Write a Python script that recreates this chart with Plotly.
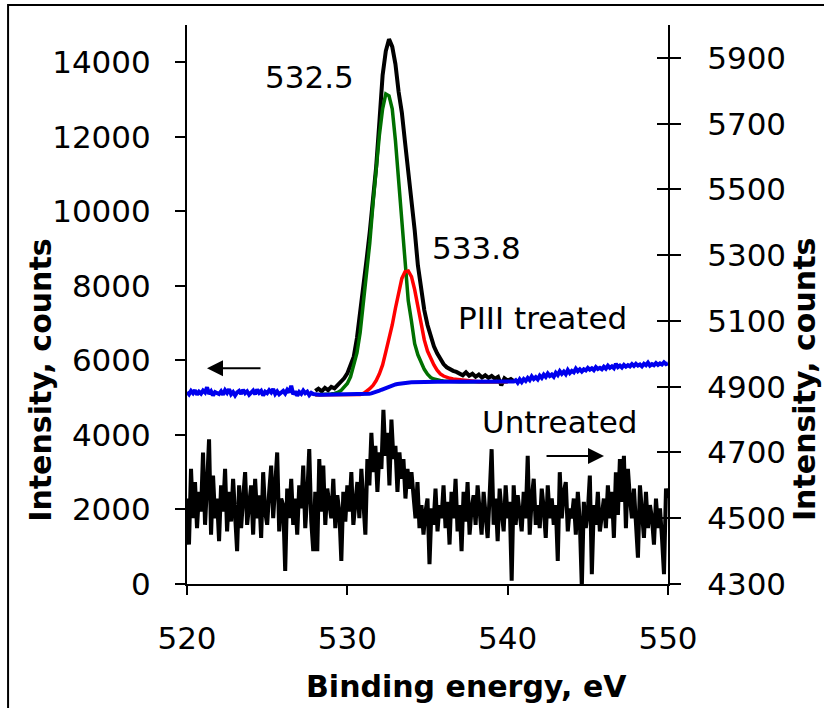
import numpy as np
import plotly.graph_objects as go

# ---------------- data ----------------
# raw-spectrum energy grid (eV), 0.125 eV step
E_raw = np.round(520 + 0.125 * np.arange(241), 3)
# fitted-component grid (eV), 0.2 eV step
E_fit = np.round(528 + 0.2 * np.arange(61), 2)
# envelope grid (eV)
E_env = np.round(528 + 0.2 * np.arange(63), 2)

# Untreated spectrum (right axis, counts)
untreated = [
    4560, 4420, 4650, 4500, 4610, 4470, 4580, 4520,
    4700, 4480, 4600, 4740, 4450, 4630, 4500, 4560,
    4430, 4600, 4520, 4650, 4460, 4580, 4490, 4620,
    4510, 4400, 4600, 4470, 4560, 4640, 4480, 4530,
    4600, 4450, 4620, 4500, 4570, 4440, 4640, 4520,
    4480, 4580, 4660, 4500, 4610, 4700, 4460, 4560,
    4540, 4340, 4590, 4500, 4620, 4480, 4560, 4450,
    4600, 4530, 4660, 4470, 4570, 4710, 4490, 4400,
    4580, 4400, 4680, 4520, 4660, 4480, 4590, 4540,
    4500, 4620, 4470, 4570, 4520, 4370, 4580, 4490,
    4600, 4520, 4640, 4480, 4560, 4610, 4500, 4650,
    4550, 4450, 4680, 4600, 4760, 4640, 4720, 4580,
    4700, 4650, 4830, 4690, 4760, 4600, 4800, 4680,
    4720, 4580, 4700, 4620, 4680, 4560, 4650, 4590,
    4640, 4560, 4500, 4610, 4470, 4540, 4450, 4520,
    4560, 4360, 4530, 4480, 4590, 4460, 4540, 4500,
    4600, 4470, 4550, 4420, 4580, 4500, 4620, 4460,
    4540, 4400, 4580, 4490, 4610, 4450, 4530, 4570,
    4480, 4600, 4520, 4450, 4580, 4500, 4440, 4570,
    4710, 4480, 4560, 4430, 4590, 4520, 4460, 4600,
    4500, 4550, 4310, 4600, 4480, 4570, 4520, 4460,
    4580, 4500, 4690, 4450, 4560, 4620, 4480, 4540,
    4470, 4590, 4530, 4440, 4600, 4500, 4560, 4480,
    4540, 4370, 4640, 4500, 4580, 4610, 4460, 4530,
    4500, 4560, 4450, 4580, 4490, 4290, 4550, 4470,
    4520, 4630, 4330, 4540, 4480, 4580, 4460, 4520,
    4560, 4470, 4600, 4500, 4580, 4440, 4640, 4510,
    4680, 4550, 4690, 4470, 4650, 4560, 4500, 4590,
    4480, 4380, 4600, 4520, 4440, 4580, 4470, 4540,
    4500, 4420, 4560, 4470, 4530, 4440, 4330, 4590,
    4560,
]

# PIII treated: background / raw ends (left axis, counts)
background = [
    5150, 5090, 5180, 5120, 5200, 5080, 5160, 5110,
    5190, 5140, 5280, 5100, 5170, 5060, 5150, 5120,
    5100, 5170, 5080, 5200, 5130, 5230, 5090, 5150,
    5060, 5140, 5180, 5100, 5210, 5120, 5170, 5080,
    5150, 5190, 5090, 5220, 5130, 5180, 5060, 5160,
    5120, 5200, 5140, 5230, 5100, 5170, 5090, 5150,
    5180, 5110, 5210, 5140, 5320, 5090, 5170, 5050,
    5150, 5100, 5190, 5120, 5160, 5070, 5130, 5100,
    5085, 5080, 5080, 5080, 5080, 5080, 5080, 5080,
    5080, 5080, 5080, 5080, 5080, 5080, 5080, 5080,
    5080, 5080, 5080, 5082, 5083, 5084, 5085, 5086,
    5088, 5092, 5098, 5105, 5115, 5128, 5145, 5165,
    5190, 5212, 5235, 5258, 5280, 5300, 5320, 5338,
    5354, 5366, 5377, 5386, 5393, 5399, 5404, 5408,
    5412, 5415, 5417, 5419, 5420, 5421, 5422, 5422,
    5423, 5423, 5423, 5424, 5424, 5424, 5425, 5425,
    5425, 5425, 5426, 5426, 5426, 5426, 5427, 5427,
    5427, 5427, 5428, 5428, 5428, 5428, 5428, 5429,
    5429, 5429, 5429, 5429, 5430, 5430, 5430, 5430,
    5430, 5430, 5430, 5430, 5430, 5430, 5430, 5430,
    5430, 5431, 5432, 5433, 5470, 5400, 5490, 5420,
    5500, 5450, 5530, 5470, 5570, 5500, 5550, 5490,
    5590, 5530, 5620, 5560, 5650, 5580, 5620, 5560,
    5670, 5610, 5710, 5640, 5700, 5630, 5740, 5660,
    5720, 5680, 5780, 5710, 5760, 5700, 5760, 5730,
    5800, 5750, 5790, 5740, 5820, 5770, 5800, 5760,
    5830, 5780, 5860, 5800, 5840, 5790, 5910, 5820,
    5860, 5810, 5880, 5830, 5870, 5840, 5900, 5850,
    5910, 5860, 5890, 5840, 5910, 5870, 5940, 5860,
    5900, 5870, 5930, 5880, 5920, 5890, 5950, 5900,
    5920,
]

# PIII treated measured envelope (left axis)
envelope = [
    5180, 5240, 5170, 5260, 5200, 5290, 5250, 5340, 5420, 5520,
    5650, 5850, 6100, 6600, 7250, 7970, 8700, 9450, 10250, 11200,
    12400, 13650, 14300, 14620, 14420, 13950, 13200, 12650, 11850, 11100,
    10400, 9500, 8550, 7850, 7350, 6950, 6620, 6380, 6190, 6030,
    5900, 5815, 5760, 5720, 5690, 5650, 5600, 5680, 5590, 5640,
    5560, 5620, 5540, 5600, 5530, 5580, 5510, 5560, 5330, 5520,
    5460, 5500, 5440,
]

# component at 532.5 eV (incl. background)
comp_5325 = [
    5080, 5080, 5082, 5085, 5090, 5100, 5115, 5140, 5190, 5270,
    5380, 5560, 5850, 6200, 6750, 7500, 8250, 9150, 10200, 11150,
    12050, 12750, 13150, 13100, 12750, 11900, 10750, 9690, 8500, 7600,
    7050, 6450, 6150, 5950, 5760, 5630, 5540, 5500, 5475, 5460,
    5450, 5442, 5436, 5432, 5430, 5428, 5427, 5426, 5426, 5426,
    5427, 5427, 5427, 5427, 5427, 5427, 5427, 5427, 5427, 5427,
    5428,
]

# component at 533.8 eV (incl. background)
comp_5338 = [
    5080, 5080, 5080, 5080, 5080, 5080, 5080, 5080, 5080, 5080,
    5080, 5080, 5080, 5082, 5088, 5110, 5170, 5240, 5330, 5460,
    5640, 5880, 6230, 6580, 6950, 7400, 7850, 8200, 8380, 8400,
    8250, 7900, 7450, 6950, 6550, 6250, 6050, 5880, 5740, 5640,
    5580, 5545, 5520, 5500, 5490, 5475, 5460, 5450, 5440, 5435,
    5432, 5430, 5430, 5428, 5428, 5428, 5428, 5428, 5428, 5428,
    5428,
]

x_ticks = [520, 530, 540, 550]
left_ticks = [0, 2000, 4000, 6000, 8000, 10000, 12000, 14000]
right_ticks = [4300, 4500, 4700, 4900, 5100, 5300, 5500, 5700, 5900]

FONT = "DejaVu Sans"
FS = 31

fig = go.Figure()

fig.add_trace(go.Scatter(x=E_raw, y=untreated, mode="lines", yaxis="y2",
                         line=dict(color="black", width=4), name="Untreated"))
fig.add_trace(go.Scatter(x=E_env, y=envelope, mode="lines",
                         line=dict(color="black", width=4), name="PIII treated"))
fig.add_trace(go.Scatter(x=E_fit, y=comp_5325, mode="lines",
                         line=dict(color="#007000", width=3.5), name="532.5"))
fig.add_trace(go.Scatter(x=E_fit, y=comp_5338, mode="lines",
                         line=dict(color="#FF0000", width=3.5), name="533.8"))
fig.add_trace(go.Scatter(x=E_raw, y=background, mode="lines",
                         line=dict(color="#0000EE", width=4), name="background"))
# helper for inward half of right-axis cross ticks
fig.add_trace(go.Scatter(x=[None], y=[None], yaxis="y3", showlegend=False))

axis_common = dict(showline=True, linecolor="black", linewidth=2, showgrid=False,
                   zeroline=False, ticks="outside", tickcolor="black", tickwidth=2,
                   tickformat="d",
                   tickfont=dict(family=FONT, size=FS, color="black"))

fig.update_layout(
    width=824, height=708,
    margin=dict(l=187, r=156, t=25, b=124),
    paper_bgcolor="white", plot_bgcolor="white",
    showlegend=False,
    xaxis=dict(range=[520, 550], tickvals=x_ticks, ticklen=9,
               ticklabelstandoff=17, **axis_common),
    yaxis=dict(range=[0, 15000], tickvals=left_ticks, ticklen=10,
               ticklabelstandoff=18, **axis_common),
    yaxis2=dict(range=[4300, 6000], tickvals=right_ticks, ticklen=11,
                overlaying="y", side="right", anchor="x",
                ticklabelstandoff=20, **axis_common),
    yaxis3=dict(range=[4300, 6000], tickvals=right_ticks, ticklen=11,
                overlaying="y", side="right", anchor="x", ticks="inside",
                tickcolor="black", tickwidth=2, showticklabels=False,
                showline=False, showgrid=False, zeroline=False),
)

def ann(text, x, y, size=FS, bold=False, angle=0):
    fig.add_annotation(text=("<b>%s</b>" % text) if bold else text,
                       x=x, y=y, xref="paper", yref="paper",
                       showarrow=False, textangle=angle,
                       xanchor="center", yanchor="middle",
                       font=dict(family=FONT, size=size, color="black"))

ann("532.5", 0.2557, 0.907)
ann("533.8", 0.601, 0.601)
ann("PIII treated", 0.740, 0.475)
ann("Untreated", 0.7755, 0.290)
ann("Binding energy, eV", 0.582, -0.183, size=30, bold=True)
ann("Intensity, counts", -0.304, 0.365, size=30, bold=True, angle=-90)
ann("Intensity, counts", 1.285, 0.365, size=30, bold=True, angle=-90)

# axis-direction arrows
fig.add_annotation(x=0.0416, y=0.386, xref="paper", yref="paper", ax=55, ay=0,
                   text="", showarrow=True, arrowhead=2, arrowsize=1.6,
                   arrowwidth=2, arrowcolor="black")
fig.add_annotation(x=0.867, y=0.229, xref="paper", yref="paper", ax=-59, ay=0,
                   text="", showarrow=True, arrowhead=2, arrowsize=1.6,
                   arrowwidth=2, arrowcolor="black")

# outer chart border
fig.add_shape(type="rect", xref="paper", yref="paper",
              x0=-0.372, x1=1.45, y0=-0.26, y1=1.0358,
              line=dict(color="black", width=2), layer="below")

fig.write_html("out.html")
